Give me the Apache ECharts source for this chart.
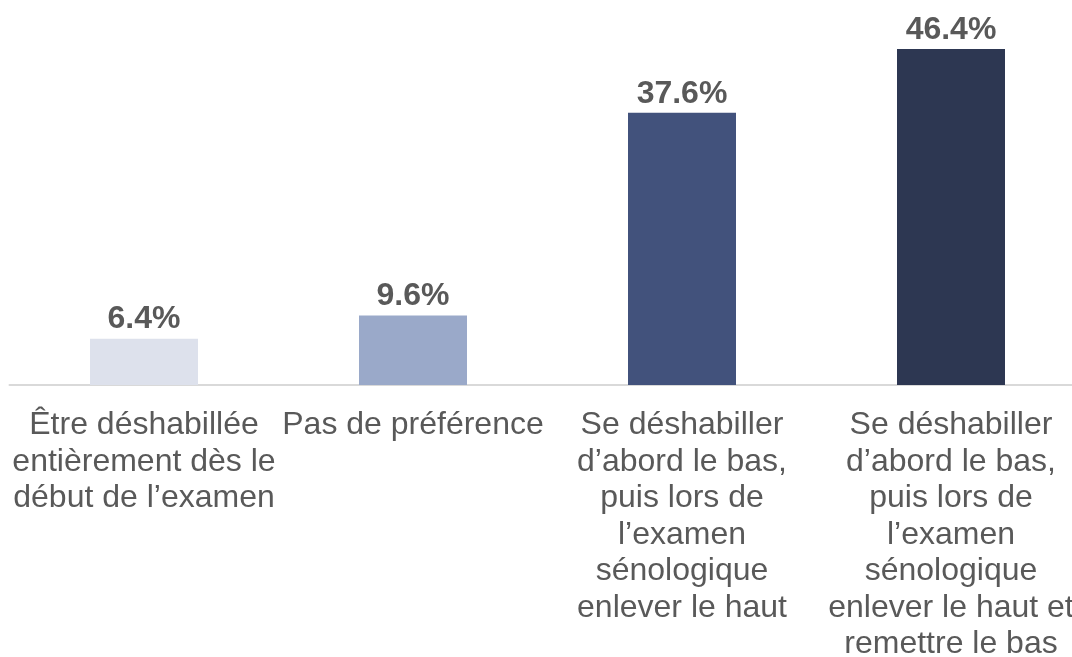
<!DOCTYPE html>
<html>
<head>
<meta charset="utf-8">
<script src="https://cdn.jsdelivr.net/npm/echarts@6/dist/echarts.min.js"></script>
<style>
html, body { margin: 0; padding: 0; background: #fff; }
#chart { width: 1072px; height: 657px; }
</style>
</head>
<body>
<div id="chart"></div>
<script>
var categories = [
    "Être déshabillée\nentièrement dès le\ndébut de l\u2019examen",
    "Pas de préférence",
    "Se déshabiller\nd\u2019abord le bas,\npuis lors de\nl\u2019examen\nsénologique\nenlever le haut",
    "Se déshabiller\nd\u2019abord le bas,\npuis lors de\nl\u2019examen\nsénologique\nenlever le haut et\nremettre le bas"
];
var values = [6.4, 9.6, 37.6, 46.4];
var colors = ["#dde1ec", "#9aa9c9", "#42527c", "#2d3752"];

var chart = echarts.init(document.getElementById("chart"));
chart.setOption({
    animation: false,
    grid: { left: 9.5, top: 23, width: 1076, bottom: 272, containLabel: false, outerBoundsMode: "none" },
    xAxis: {
        type: "category",
        data: categories,
        axisLine: { lineStyle: { color: "#d9d9d9", width: 2 } },
        axisTick: { show: false },
        axisLabel: {
            interval: 0,
            margin: 22,
            color: "#595959",
            fontFamily: "Liberation Sans, Arial, sans-serif",
            fontSize: 32,
            lineHeight: 36.5,
            align: "center",
            verticalAlign: "top"
        }
    },
    yAxis: {
        type: "value",
        min: 0,
        max: 50,
        show: false,
        splitLine: { show: false }
    },
    series: [{
        type: "bar",
        data: values.map(function(v, i) {
            return { value: v, itemStyle: { color: colors[i] } };
        }),
        barWidth: 108,
        label: {
            show: true,
            position: "top",
            distance: 3,
            formatter: function(p) { return p.value.toFixed(1) + "%"; },
            color: "#595959",
            fontWeight: "bold",
            fontFamily: "Liberation Sans, Arial, sans-serif",
            fontSize: 32
        }
    }]
});
</script>
</body>
</html>
